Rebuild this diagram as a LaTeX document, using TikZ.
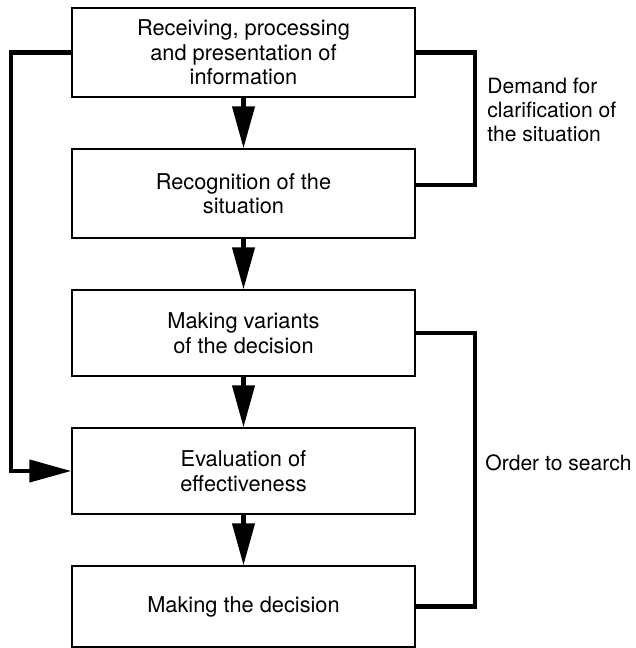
\documentclass[tikz,border=0pt]{standalone}
\usepackage{fontspec}
\setmainfont{TeX Gyre Heros}
\usetikzlibrary{arrows.meta}

\begin{document}
\begin{tikzpicture}[
		stage/.style={draw, line width=0.8pt, minimum width=6.86cm, inner sep=0pt, align=center, font=\fontsize{12.4}{14}\selectfont},
		feedback/.style={line width=2.4pt},
		flow/.style={line width=2.4pt, -{Triangle[length=0.84cm, width=0.44cm]}},
		remark/.style={anchor=west, inner sep=0pt, align=left, font=\fontsize{12}{13.6}\selectfont}
	]
				\useasboundingbox (0,0) rectangle (12.7,-12.96);
				% stages of the process
				\node[stage, minimum height=1.78cm] (recv) at (4.87,-1.05) {Receiving, processing\\and presentation of\\information};
				\node[stage, minimum height=1.78cm] (recog) at (4.87,-3.87) {Recognition of the\\situation};
				\node[stage, minimum height=1.72cm] (vari) at (4.87,-6.66) {Making variants\\of the decision};
				\node[stage, minimum height=1.72cm] (eval) at (4.87,-9.42) {Evaluation of\\effectiveness};
				\node[stage, minimum height=1.62cm] (decide) at (4.87,-12.13) {Making the decision};
				
				% main flow
				\foreach \a/\b in {recv/recog, recog/vari, vari/eval, eval/decide}
					\draw[flow] (\a) -- (\b);
				
				% bypass on the left
				\draw[flow] (recv.west) -- ++(-1.2,0) |- (eval.west);
				
				% loops on the right
				\draw[feedback] (recv.east) -- ++(1.18,0) |- ([yshift=0.17cm]recog.east);
				\draw[feedback] (vari.east) -- ++(1.18,0) |- (decide.east);
				
				\node[remark] (demand) at (9.74,-2.2) {Demand for\\clarification of\\the situation};
				\node[remark] (order) at (9.7,-9.26) {Order to search};
			\end{tikzpicture}
\end{document}
